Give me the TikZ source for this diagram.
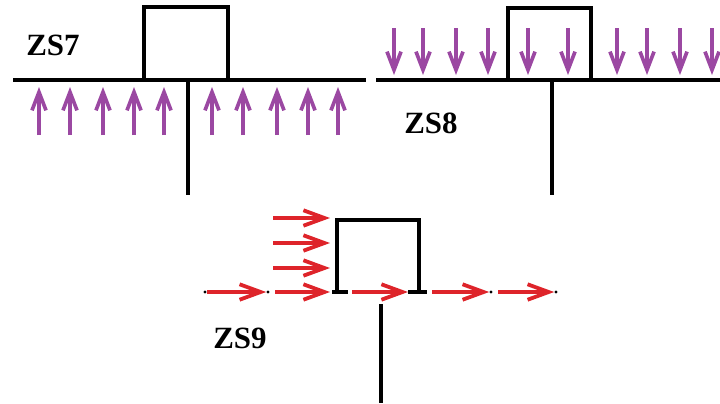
\documentclass[tikz,border=0pt]{standalone}
\usepackage{fontspec}
\setmainfont{Liberation Serif}
\usetikzlibrary{arrows.meta}
\definecolor{loadpurple}{RGB}{155,72,162}
\definecolor{loadred}{RGB}{222,36,42}

\begin{document}
\begin{tikzpicture}[x=0.025cm,y=-0.025cm]
\tikzset{
  beam/.style={line width=2.2pt,black},
  uparrow/.style={-{Straight Barb[length=13pt,width=10pt]},line width=2.6pt,loadpurple},
  downarrow/.style={-{Straight Barb[length=13pt,width=10pt]},line width=2.6pt,loadpurple},
  flowarrow/.style={-{Straight Barb[length=15pt,width=11pt]},line width=2.7pt,loadred},
  panellabel/.style={anchor=base,inner sep=0pt,font=\fontsize{22}{24}\selectfont\bfseries},
  tick/.style={circle,fill=black,inner sep=0pt,minimum size=2.2pt}
}
\useasboundingbox (0,0) rectangle (720,403);
% ZS7
\node[panellabel] (lbl_zs7) at (53,55) {ZS7};
\draw[beam] (13,80) -- (366,80);
\draw[beam] (144,80) |- (228,7) -- (228,80);
\draw[beam] (188,80) -- (188,195);
\draw[uparrow] (39,135) -- (39,87);
\draw[uparrow] (70,135) -- (70,87);
\draw[uparrow] (103,135) -- (103,87);
\draw[uparrow] (134,135) -- (134,87);
\draw[uparrow] (164,135) -- (164,87);
\draw[uparrow] (212,135) -- (212,87);
\draw[uparrow] (243,135) -- (243,87);
\draw[uparrow] (277,135) -- (277,87);
\draw[uparrow] (308,135) -- (308,87);
\draw[uparrow] (338,135) -- (338,87);
% ZS8
\node[panellabel] (lbl_zs8) at (431,133) {ZS8};
\draw[beam] (376,80) -- (720,80);
\draw[beam] (508,80) |- (591,8) -- (591,80);
\draw[beam] (552,80) -- (552,195);
\draw[downarrow] (394,28) -- (394,75);
\draw[downarrow] (423,28) -- (423,75);
\draw[downarrow] (456,28) -- (456,75);
\draw[downarrow] (488,28) -- (488,75);
\draw[downarrow] (528,28) -- (528,75);
\draw[downarrow] (568,28) -- (568,75);
\draw[downarrow] (617,28) -- (617,75);
\draw[downarrow] (647,28) -- (647,75);
\draw[downarrow] (680,28) -- (680,75);
\draw[downarrow] (712,28) -- (712,75);
% ZS9
\node[panellabel] (lbl_zs9) at (240,348) {ZS9};
\draw[beam] (337,292) |- (419,220) -- (419,292);
\draw[beam] (332,292) -- (348,292);
\draw[beam] (408,292) -- (427,292);
\draw[beam] (381,304) -- (381,403);
\node[tick] (t_a) at (205,292) {};
\node[tick] (t_b) at (268,292) {};
\node[tick] (t_c) at (491,292) {};
\node[tick] (t_d) at (556,292) {};
\draw[flowarrow] (t_a) -- (t_b);
\draw[flowarrow] (275,292) -- (330,292);
\draw[flowarrow] (352,292) -- (408,292);
\draw[flowarrow] (432,292) -- (t_c);
\draw[flowarrow] (498,292) -- (t_d);
\draw[flowarrow] (273,218) -- (330,218);
\draw[flowarrow] (273,243) -- (330,243);
\draw[flowarrow] (273,268) -- (330,268);
\end{tikzpicture}
\end{document}
